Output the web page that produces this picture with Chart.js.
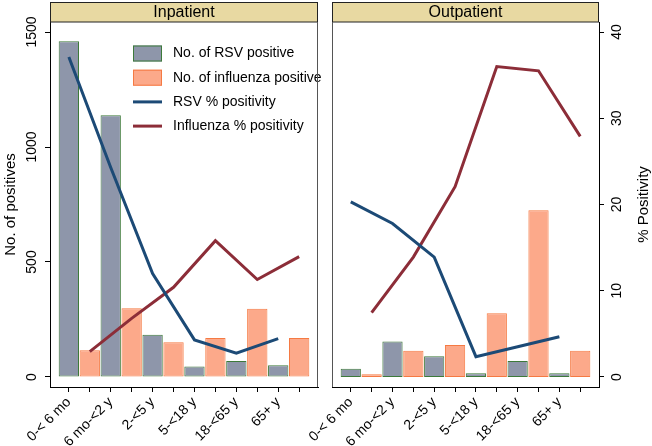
<!DOCTYPE html>
<html><head><meta charset="utf-8">
<script src="https://cdn.jsdelivr.net/npm/chart.js@4/dist/chart.umd.min.js"></script>
<style>
html,body{margin:0;padding:0;background:#fff;}
#wrap{position:relative;width:652px;height:446px;overflow:hidden;background:#fff;}
#c1{position:absolute;left:0;top:0;width:326px;height:446px;}
#c2{position:absolute;left:270px;top:0;width:382px;height:446px;}
</style></head><body>
<div id="wrap"><canvas id="c1" width="326" height="446"></canvas><canvas id="c2" width="382" height="446"></canvas></div>
<script>
// ---- data ----
const ageGroups = ['0-< 6 mo', '6 mo-<2 y', '2-<5 y', '5-<18 y', '18-<65 y', '65+ y'];
const panels = ['Inpatient', 'Outpatient'];
const inpRsvCount = [1460, 1138, 184, 46, 70, 51];
const inpFluCount = [116, 299, 151, 170, 297, 170];
const inpRsvPct = [37.1, 24.3, 12.0, 4.3, 2.75, 4.44];
const inpFluPct = [2.94, 6.8, 10.4, 15.8, 11.3, 13.95];
const outRsvCount = [36, 154, 90, 16, 70, 16];
const outFluCount = [12, 114, 139, 277, 725, 114];
const outRsvPct = [20.3, 17.8, 13.9, 2.36, 3.5, 4.67];
const outFluPct = [7.46, 13.9, 22.07, 36.0, 35.5, 27.9];
const countTicks = [0, 500, 1000, 1500];
const pctTicks = [0, 10, 20, 30, 40];
const seriesNames = ['No. of RSV positive', 'No. of influenza positive', 'RSV % positivity', 'Influenza % positivity'];
const axisTitles = ['No. of positives', '% Positivity'];

// ---- styles ----
const FONT = 'Liberation Sans, Arial, Helvetica, sans-serif';
Chart.defaults.font.family = FONT;
Chart.defaults.color = '#000';
const C = {
  rsvFill: '#8e96aa', rsvBorder: '#3d7a3a',
  fluFill: '#fca98a', fluBorder: '#f57a43',
  rsvLine: '#1c4a76', fluLine: '#8c2d38',
  header: '#e8d9a2'
};

// positions on the linear index axis: RSV at odd slots, influenza at even slots
const rsvPos = ageGroups.map((_, i) => 2 * i + 1);
const fluPos = ageGroups.map((_, i) => 2 * i + 2);
const allPos = rsvPos.concat(fluPos).sort((a, b) => a - b);
const pts = (pos, vals) => vals.map((v, i) => ({x: pos[i], y: v}));

const panelPlugin = {
  id: 'panel',
  afterDraw(chart, args, o) {
    const {ctx, chartArea: a} = chart;
    ctx.save();
    // header strip
    ctx.fillStyle = C.header;
    ctx.fillRect(a.left, 2, a.right - a.left, a.top - 2);
    ctx.strokeStyle = '#222';
    ctx.lineWidth = 1;
    ctx.strokeRect(a.left + 0.5, 2.5, a.right - a.left - 1, a.top - 2.5);
    ctx.fillStyle = '#000';
    ctx.font = '16px ' + FONT;
    ctx.textAlign = 'center';
    ctx.textBaseline = 'middle';
    ctx.fillText(o.title, (a.left + a.right) / 2, (a.top + 2) / 2 + 1);
    // frame side
    ctx.strokeStyle = '#555';
    ctx.beginPath();
    if (o.side === 'right') { ctx.moveTo(a.right - 0.5, a.top); ctx.lineTo(a.right - 0.5, a.bottom); }
    else { ctx.moveTo(a.left + 0.5, a.top); ctx.lineTo(a.left + 0.5, a.bottom); }
    ctx.stroke();
    // right-hand axis title, reading bottom-to-top
    if (o.rightTitle) {
      const s = chart.scales.y1;
      ctx.font = '15px ' + FONT;
      ctx.translate(s.right - 8, (a.top + a.bottom) / 2);
      ctx.rotate(-Math.PI / 2);
      ctx.fillText(o.rightTitle, 0, 0);
    }
    ctx.restore();
  }
};

const legendPlugin = {
  id: 'customLegend',
  afterDatasetsDraw(chart, args, o) {
    if (!o.show) return;
    const {ctx, chartArea: a} = chart;
    const x0 = a.left + 83, y0 = 53.5, dy = 24.2;
    ctx.save();
    ctx.font = '14px ' + FONT;
    ctx.textBaseline = 'middle';
    ctx.textAlign = 'left';
    const ds = chart.data.datasets;
    [0, 1, 2, 3].forEach((k, r) => {
      const d = ds[k];
      const y = y0 + r * dy;
      if (d.type === 'line') {
        ctx.strokeStyle = d.borderColor; ctx.lineWidth = 3;
        ctx.beginPath(); ctx.moveTo(x0, y); ctx.lineTo(x0 + 29, y); ctx.stroke();
      } else {
        ctx.fillStyle = d.backgroundColor;
        ctx.fillRect(x0, y - 8, 29, 16);
        ctx.strokeStyle = d.borderColor; ctx.lineWidth = 1;
        ctx.strokeRect(x0 + 0.5, y - 7.5, 28, 15);
      }
      ctx.fillStyle = '#000';
      ctx.fillText(d.label, x0 + 40, y);
    });
    ctx.restore();
  }
};

function makeChart(id, p) {
  const isLeft = p === 0;
  const rc = isLeft ? inpRsvCount : outRsvCount;
  const fc = isLeft ? inpFluCount : outFluCount;
  const rp = isLeft ? inpRsvPct : outRsvPct;
  const fp = isLeft ? inpFluPct : outFluPct;
  const gridOpt = {display: true, drawOnChartArea: false, drawTicks: true, tickLength: 5, color: '#000', lineWidth: 1};
  const barBase = {type: 'bar', borderWidth: 1, borderSkipped: false, grouped: false, yAxisID: 'y', order: 2, categoryPercentage: 1, barPercentage: 0.97};
  return new Chart(document.getElementById(id), {
    type: 'bar',
    data: {
      datasets: [
        {...barBase, label: seriesNames[0], data: pts(rsvPos, rc), backgroundColor: C.rsvFill, borderColor: C.rsvBorder},
        {...barBase, label: seriesNames[1], data: pts(fluPos, fc), backgroundColor: C.fluFill, borderColor: C.fluBorder},
        {type: 'line', label: seriesNames[2], data: pts(rsvPos, rp), borderColor: C.rsvLine, backgroundColor: C.rsvLine, borderWidth: 3, pointRadius: 0, yAxisID: 'y1', order: 1, tension: 0},
        {type: 'line', label: seriesNames[3], data: pts(fluPos, fp), borderColor: C.fluLine, backgroundColor: C.fluLine, borderWidth: 3, pointRadius: 0, yAxisID: 'y1', order: 1, tension: 0}
      ]
    },
    options: {
      responsive: false,
      animation: false,
      events: [],
      layout: {padding: {top: 22, left: isLeft ? 0 : 62, right: isLeft ? 8 : 0, bottom: 0}},
      plugins: {
        legend: {display: false},
        tooltip: {enabled: false},
        panel: {title: panels[p], side: isLeft ? 'right' : 'left', rightTitle: isLeft ? null : axisTitles[1]},
        customLegend: {show: isLeft}
      },
      scales: {
        x: {
          type: 'linear', min: 0.1, max: 12.9, offset: false,
          afterBuildTicks: s => { s.ticks = allPos.map(v => ({value: v})); },
          afterFit: s => { s.height = 59; },
          grid: {...gridOpt, offset: false},
          border: {display: true, color: '#000', width: 1},
          ticks: {
            autoSkip: false, minRotation: 45, maxRotation: 45, padding: 2,
            font: {size: 14}, color: '#000',
            callback: v => (v % 2 === 1 ? ageGroups[(v - 1) / 2] : '')
          }
        },
        y: {
          display: isLeft, position: 'left', min: -43.5, max: 1543.5,
          afterBuildTicks: s => { s.ticks = countTicks.map(v => ({value: v})); },
          afterFit: s => { if (isLeft) s.width = 50; },
          grid: gridOpt,
          border: {display: true, color: '#000', width: 1},
          ticks: {minRotation: 90, maxRotation: 90, crossAlign: 'center', padding: -3, font: {size: 14}, color: '#000', callback: v => String(v)},
          title: {display: true, text: axisTitles[0], font: {size: 15}, color: '#000', padding: {top: 2, bottom: 0}}
        },
        y1: {
          display: !isLeft, position: 'right', min: -1.16, max: 41.16,
          afterBuildTicks: s => { s.ticks = pctTicks.map(v => ({value: v})); },
          afterFit: s => { if (!isLeft) s.width = 53; },
          grid: gridOpt,
          border: {display: true, color: '#000', width: 1},
          ticks: {minRotation: 90, maxRotation: 90, crossAlign: 'center', padding: 5, font: {size: 14}, color: '#000', callback: v => String(v)},
          title: {display: false}
        }
      }
    },
    plugins: [panelPlugin, legendPlugin]
  });
}
makeChart('c1', 0);
makeChart('c2', 1);
</script>
</body></html>
